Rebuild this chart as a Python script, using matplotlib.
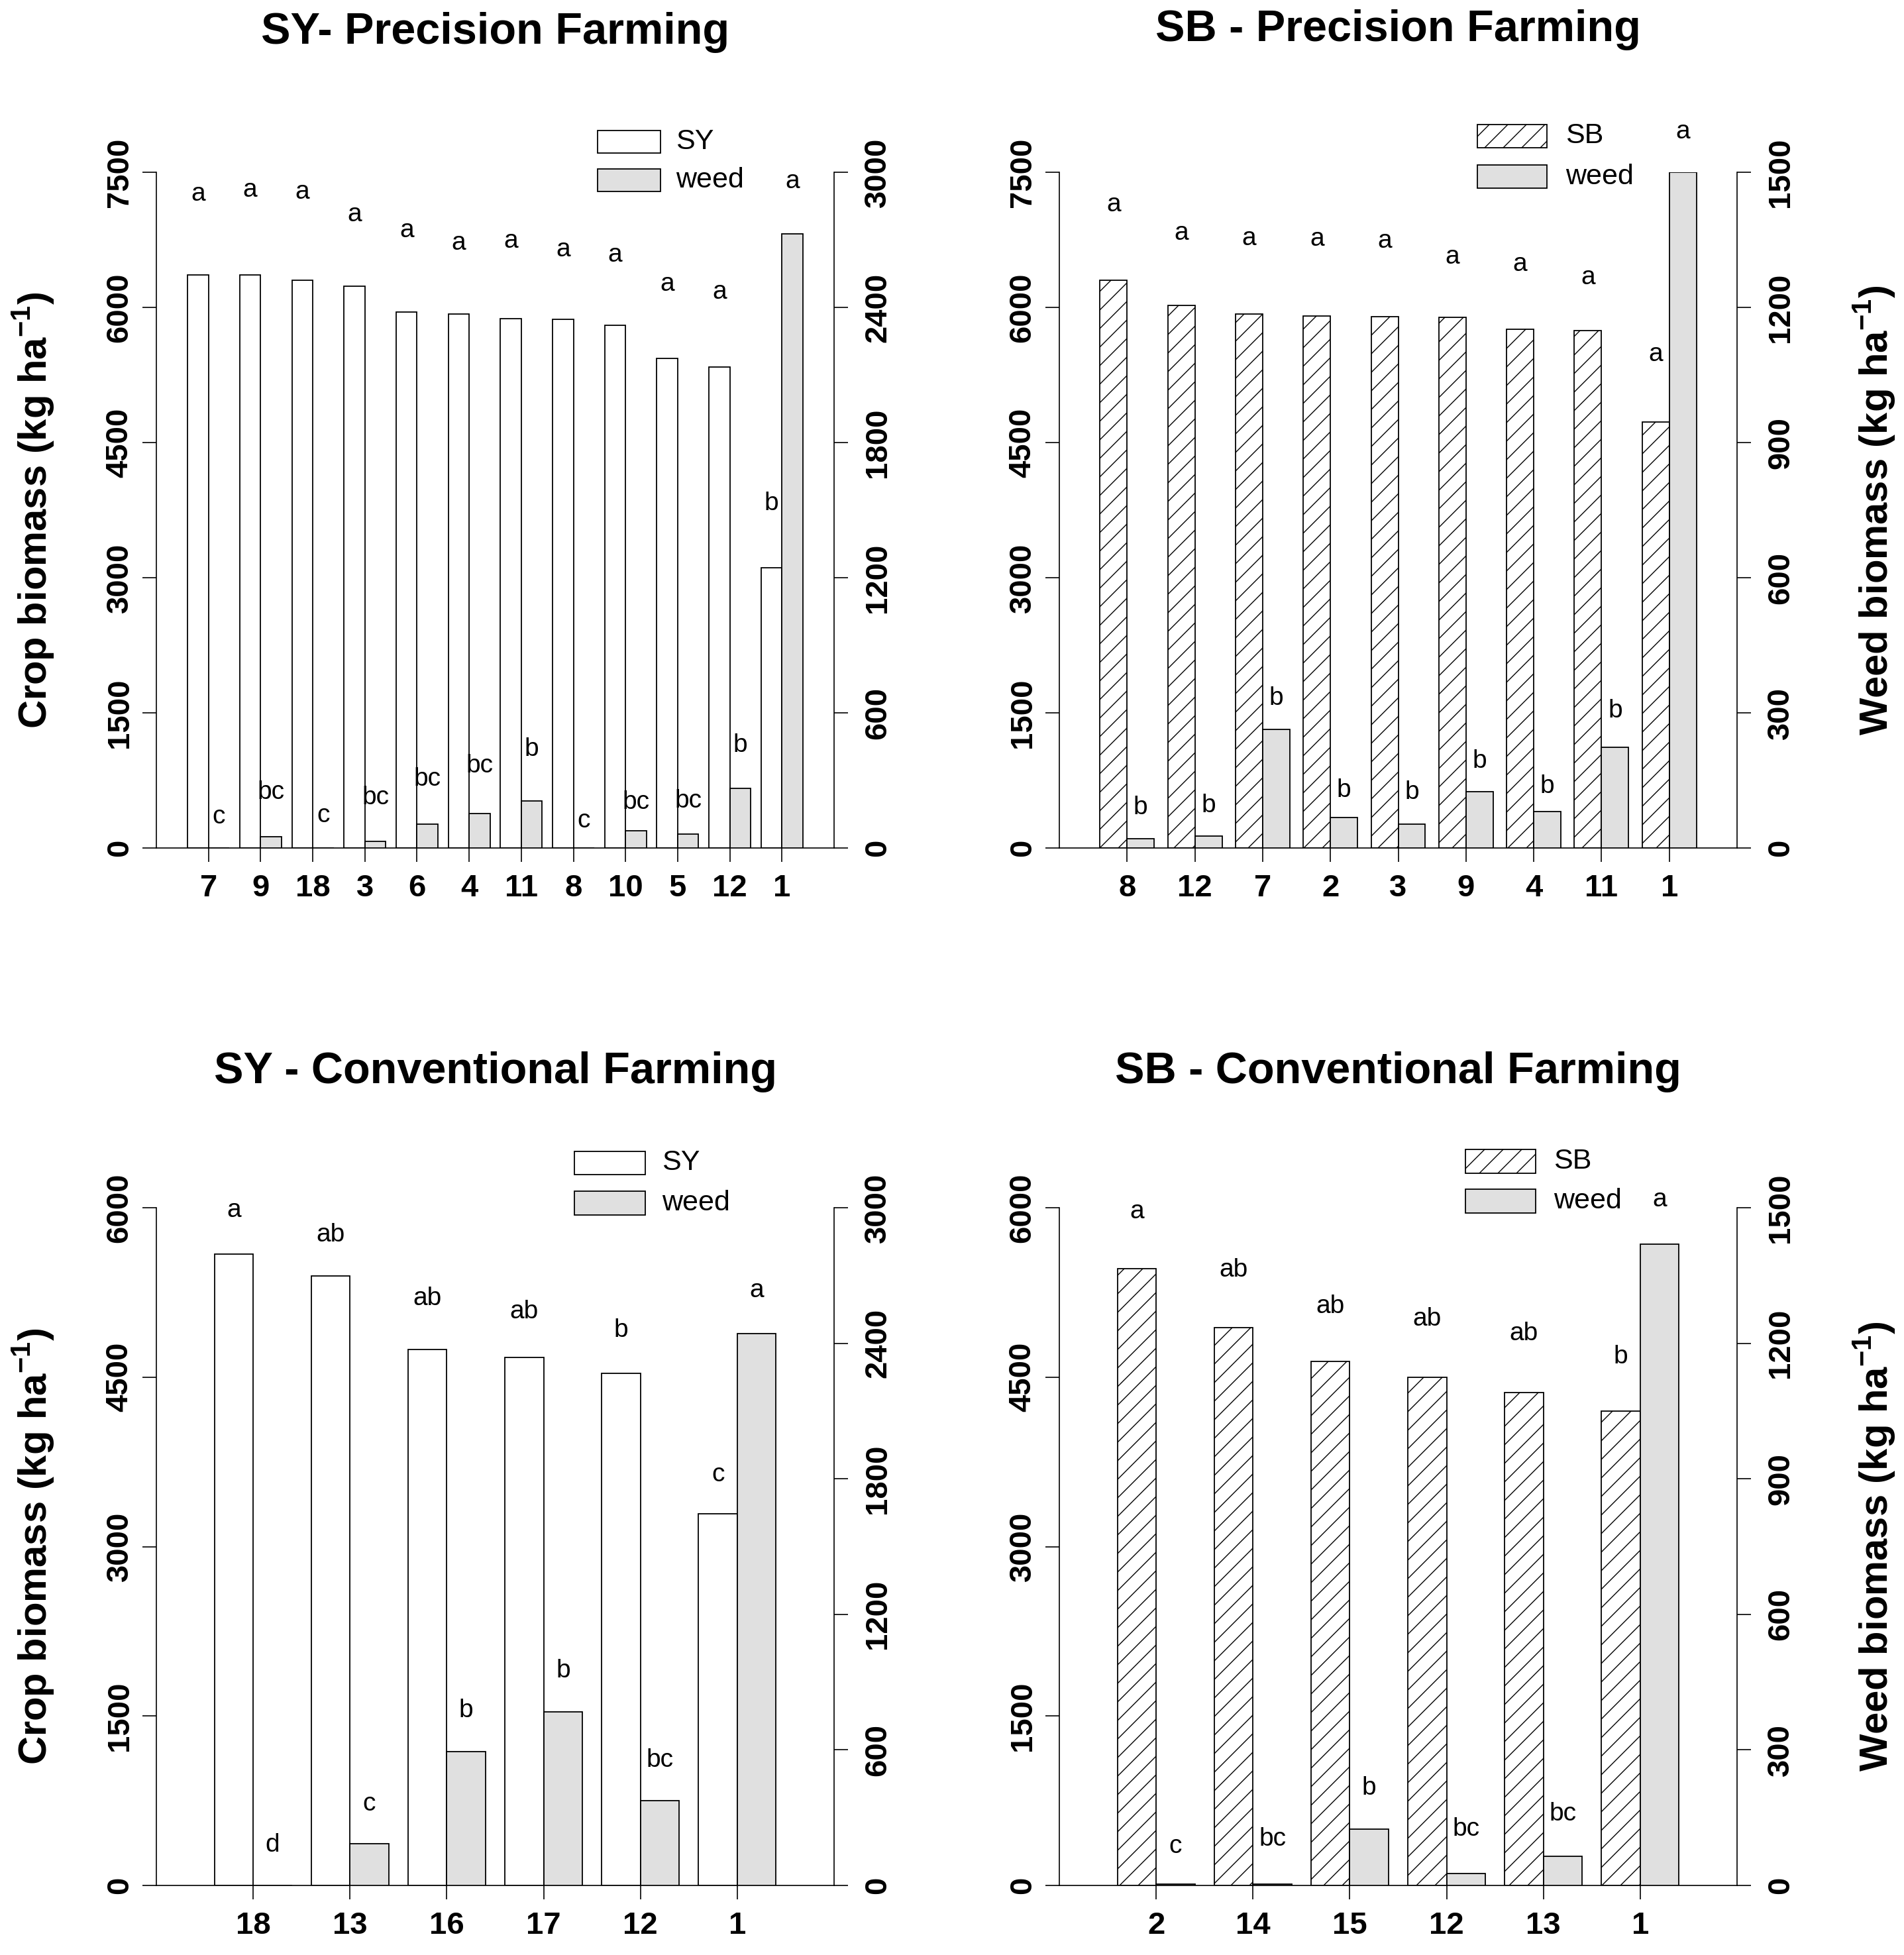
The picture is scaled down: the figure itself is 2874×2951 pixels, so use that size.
import matplotlib
matplotlib.use('Agg')
import matplotlib.pyplot as plt
from matplotlib.patches import Rectangle

DPI = 84
S = 100 / DPI  # keeps pixel sizes as designed for 100 dpi


def P(v):
    return v * S


plt.rcParams['font.family'] = ['Liberation Sans', 'DejaVu Sans']
plt.rcParams['hatch.linewidth'] = P(1.0)
plt.rcParams['hatch.color'] = 'black'
plt.rcParams['mathtext.fontset'] = 'custom'
plt.rcParams['mathtext.bf'] = 'Liberation Sans:bold'
plt.rcParams['mathtext.rm'] = 'Liberation Sans'

# ---------------- data ----------------
# SY - Precision Farming
sy_pf_labels = ['7', '9', '18', '3', '6', '4', '11', '8', '10', '5', '12', '1']
sy_pf_crop = [6362, 6357, 6298, 6233, 5952, 5923, 5876, 5864, 5805, 5436, 5336, 3108]
sy_pf_weed = [0, 49, 0, 30, 106, 152, 209, 0, 77, 61, 265, 2726]
sy_pf_crop_let = ['a', 'a', 'a', 'a', 'a', 'a', 'a', 'a', 'a', 'a', 'a', 'b']
sy_pf_crop_let_y = [7254, 7301, 7283, 7030, 6855, 6714, 6737, 6638, 6579, 6257, 6169, 3823]
sy_pf_weed_let = ['c', 'bc', 'c', 'bc', 'bc', 'bc', 'b', 'c', 'bc', 'bc', 'b', 'a']
sy_pf_weed_let_y = [138, 246, 145, 223, 305, 364, 439, 122, 204, 209, 457, 2960]

# SB - Precision Farming
sb_pf_labels = ['8', '12', '7', '2', '3', '9', '4', '11', '1']
sb_pf_crop = [6304, 6022, 5928, 5905, 5899, 5887, 5758, 5741, 4726]
sb_pf_weed = [20, 26, 263, 67, 53, 125, 81, 224, 1500]
sb_pf_crop_let = ['a', 'a', 'a', 'a', 'a', 'a', 'a', 'a', 'a']
sb_pf_crop_let_y = [7137, 6826, 6767, 6755, 6738, 6562, 6480, 6333, 5477]
sb_pf_weed_let = ['b', 'b', 'b', 'b', 'b', 'b', 'b', 'b', 'a']
sb_pf_weed_let_y = [90, 94, 333, 128, 123, 192, 137, 305, 1589]

# SY - Conventional Farming
sy_cf_labels = ['18', '13', '16', '17', '12', '1']
sy_cf_crop = [5588, 5396, 4745, 4675, 4534, 3288]
sy_cf_weed = [0, 185, 593, 768, 375, 2443]
sy_cf_crop_let = ['a', 'ab', 'ab', 'ab', 'b', 'c']
sy_cf_crop_let_y = [5977, 5757, 5195, 5078, 4913, 3635]
sy_cf_weed_let = ['d', 'c', 'b', 'b', 'bc', 'a']
sy_cf_weed_let_y = [180, 361, 775, 951, 553, 2632]

# SB - Conventional Farming
sb_cf_labels = ['2', '14', '15', '12', '13', '1']
sb_cf_crop = [5462, 4937, 4637, 4497, 4366, 4201]
sb_cf_weed = [3, 3, 124, 27, 64, 1420]
sb_cf_crop_let = ['a', 'ab', 'ab', 'ab', 'ab', 'b']
sb_cf_crop_let_y = [5967, 5448, 5129, 5017, 4885, 4679]
sb_cf_weed_let = ['c', 'bc', 'b', 'bc', 'bc', 'a']
sb_cf_weed_let_y = [87, 103, 215, 124, 159, 1518]

WEED_COLOR = '#e0e0e0'
W = 0.4
LW = P(1.3)

fig = plt.figure(figsize=(2874 / DPI, 2951 / DPI), dpi=DPI)


def panel(rect, title, title_y, labels, crop, weed, crop_let, crop_let_y,
          weed_let, weed_let_y, crop_max, crop_step, weed_max, weed_step,
          crop_name, hatch, leg, ylabel_side):
    ax = fig.add_axes(rect)
    ax2 = ax.twinx()
    n = len(labels)
    xs = list(range(n))
    ax.bar([x - W for x in xs], crop, width=W, align='edge', color='white',
           edgecolor='black', linewidth=LW, hatch=hatch, zorder=2)
    ax2.bar(xs, weed, width=W, align='edge', color=WEED_COLOR,
            edgecolor='black', linewidth=LW, zorder=2)
    for x, t, y in zip(xs, crop_let, crop_let_y):
        ax.text(x - W / 2, y, t, ha='center', va='center', fontsize=P(28),
                clip_on=False)
    for x, t, y in zip(xs, weed_let, weed_let_y):
        ax2.text(x + W / 2, y, t, ha='center', va='center', fontsize=P(28),
                 clip_on=False)
    ax.set_xlim(-1, n)
    ax.set_ylim(0, crop_max)
    ax2.set_ylim(0, weed_max)
    cticks = list(range(0, crop_max + 1, crop_step))
    wticks = list(range(0, weed_max + 1, weed_step))
    ax.set_yticks(cticks, [str(v) for v in cticks], fontweight='bold',
                  rotation=90, va='center')
    ax2.set_yticks(wticks, [str(v) for v in wticks], fontweight='bold',
                   rotation=90, va='center')
    ax.set_xticks(xs, labels, fontweight='bold')
    ax.tick_params(axis='y', direction='out', length=P(15), width=P(1.2),
                   pad=P(9), labelsize=P(34))
    ax2.tick_params(axis='y', direction='out', length=P(15), width=P(1.2),
                    pad=P(17), labelsize=P(34))
    ax.tick_params(axis='x', direction='out', length=P(15), width=P(1.2),
                   pad=P(13), labelsize=P(34))
    for s in ['top', 'right']:
        ax.spines[s].set_visible(False)
    for s in ['top', 'left', 'bottom']:
        ax2.spines[s].set_visible(False)
    for sp in [ax.spines['left'], ax.spines['bottom'], ax2.spines['right']]:
        sp.set_linewidth(P(1.2))
    # legend (manual)
    (bx0, bx1, tx, y1t, y1b, y2t, y2b) = leg
    r1 = Rectangle((bx0, y1b), bx1 - bx0, y1t - y1b, transform=ax.transAxes,
                   facecolor='white', edgecolor='black', linewidth=LW,
                   hatch=hatch, clip_on=False)
    r2 = Rectangle((bx0, y2b), bx1 - bx0, y2t - y2b, transform=ax.transAxes,
                   facecolor=WEED_COLOR, edgecolor='black', linewidth=LW,
                   clip_on=False)
    ax.add_patch(r1)
    ax.add_patch(r2)
    ax.text(tx, (y1t + y1b) / 2, crop_name, transform=ax.transAxes,
            ha='left', va='center', fontsize=P(31))
    ax.text(tx, (y2t + y2b) / 2, 'weed', transform=ax.transAxes,
            ha='left', va='center', fontsize=P(31))
    # title
    fig.text(rect[0] + rect[2] / 2, title_y, title, ha='center',
             va='baseline', fontsize=P(48), fontweight='bold')
    ycen = rect[1] + rect[3] / 2
    if ylabel_side == 'left':
        fig.text(0.0177, ycen, r'Crop biomass (kg ha$^{\mathbf{-1}}$)',
                 rotation=90, ha='center', va='center', fontsize=P(43),
                 fontweight='bold')
    else:
        fig.text(0.9847, ycen, r'Weed biomass (kg ha$^{\mathbf{-1}}$)',
                 rotation=90, ha='center', va='center', fontsize=P(43),
                 fontweight='bold')
    return ax


LX, RX, AW = 236 / 2874, 1599 / 2874, 1023 / 2874
TB, TH = 1 - 1280 / 2951, 1020 / 2951
BB, BH = 1 - 2846 / 2951, 1023 / 2951

panel([LX, TB, AW, TH], 'SY- Precision Farming', 0.9776,
      sy_pf_labels, sy_pf_crop, sy_pf_weed, sy_pf_crop_let, sy_pf_crop_let_y,
      sy_pf_weed_let, sy_pf_weed_let_y, 7500, 1500, 3000, 600, 'SY', None,
      (0.651, 0.744, 0.766, 1.062, 1.028, 1.005, 0.972), 'left')

panel([RX, TB, AW, TH], 'SB - Precision Farming', 0.9790,
      sb_pf_labels, sb_pf_crop, sb_pf_weed, sb_pf_crop_let, sb_pf_crop_let_y,
      sb_pf_weed_let, sb_pf_weed_let_y, 7500, 1500, 1500, 300, 'SB', '/',
      (0.617, 0.719, 0.747, 1.071, 1.036, 1.011, 0.976), 'right')

panel([LX, BB, AW, BH], 'SY - Conventional Farming', 0.4460,
      sy_cf_labels, sy_cf_crop, sy_cf_weed, sy_cf_crop_let, sy_cf_crop_let_y,
      sy_cf_weed_let, sy_cf_weed_let_y, 6000, 1500, 3000, 600, 'SY', None,
      (0.617, 0.721, 0.746, 1.083, 1.049, 1.024, 0.989), 'left')

panel([RX, BB, AW, BH], 'SB - Conventional Farming', 0.4460,
      sb_cf_labels, sb_cf_crop, sb_cf_weed, sb_cf_crop_let, sb_cf_crop_let_y,
      sb_cf_weed_let, sb_cf_weed_let_y, 6000, 1500, 1500, 300, 'SB', '/',
      (0.599, 0.703, 0.729, 1.086, 1.051, 1.027, 0.992), 'right')

fig.savefig('out.png', dpi=DPI)
